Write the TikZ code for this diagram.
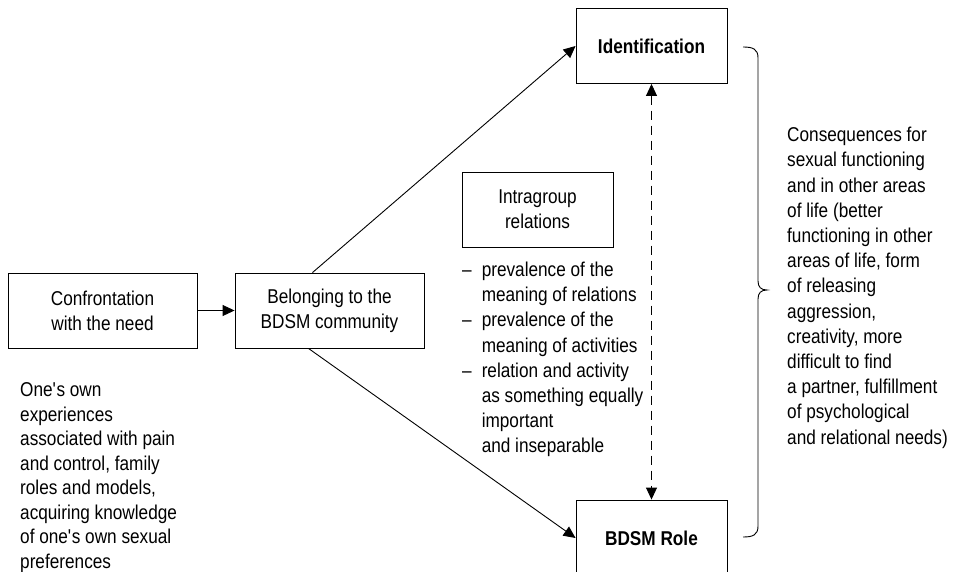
\documentclass[tikz,border=0pt]{standalone}
\usepackage{fontspec}
\setmainfont{Liberation Sans}[FakeStretch=0.86]
\usetikzlibrary{arrows.meta}
\newcommand{\diagfont}{\fontsize{20}{25.2}\selectfont}
\tikzset{
    box/.style={draw, line width=0.9pt, minimum width=151pt, minimum height=75pt, align=center, inner sep=3pt},
    txt/.style={align=left, inner sep=0pt, anchor=base west},
    tip/.style={line width=0.9pt, arrows={-Triangle[length=12pt,width=11pt]}}
}

\begin{document}
\begin{tikzpicture}[x=1pt, y=-1pt, every node/.style={font=\diagfont}]
                \useasboundingbox (0,0) rectangle (955,572);

                \node[box, minimum width=189pt] (conf) at (102.5,310.5) {Confrontation\\with the need};
                \node[box, minimum width=189pt] (belong) at (329.5,310.5) {Belonging to the\\BDSM community};
                \node[box] (ident) at (651.5,46) {\textbf{Identification}};
                \node[box, minimum height=76pt] (role) at (651.5,538) {\textbf{BDSM Role}};
                \node[box] (intra) at (537.5,209.5) {Intragroup\\relations};

                % multi-line texts sit on the baseline of their last line
                \node[txt, font=\fontsize{20}{24.5}\selectfont] (needs) at (20,568) {One\textquotesingle s own\\experiences\\associated with pain\\and control, family\\roles and models,\\acquiring knowledge\\of one\textquotesingle s own sexual\\preferences};
                \node[txt] (kinds) at (462,276.5) {\begin{tabular}[t]{@{}l@{\hspace{10pt}}l@{}}
                    -- & prevalence of the\\
                       & meaning of relations\\
                    -- & prevalence of the\\
                       & meaning of activities\\
                    -- & relation and activity\\
                       & as something equally\\
                       & important\\
                       & and inseparable
                \end{tabular}};
                \node[txt] (cons) at (787,444) {Consequences for\\sexual functioning\\and in other areas\\of life (better\\functioning in other\\areas of life, form\\of releasing\\aggression,\\creativity, more\\difficult to find\\a partner, fulfillment\\of psychological\\and relational needs)};

                \draw[tip] (conf) -- (belong);
                \draw[tip] ([xshift=-17pt]belong.north) -- (ident.west);
                \draw[tip] ([xshift=-21pt]belong.south) -- (role.west);
                \draw[line width=0.9pt, dash pattern=on 9pt off 6pt,
                      arrows={Triangle[length=12pt,width=11pt]-Triangle[length=12pt,width=11pt]}] (ident.south) -- (role.north);

                % brace over both outcomes
                \draw[line width=0.9pt] (743,47) .. controls (753,47) and (758,49) .. (758,58) -- (758,281)
                    .. controls (758,287) and (761,290) .. (767,290)
                    .. controls (761,290) and (758,293) .. (758,299) -- (758,526)
                    .. controls (758,535) and (753,537) .. (743,537);
            \end{tikzpicture}
\end{document}
